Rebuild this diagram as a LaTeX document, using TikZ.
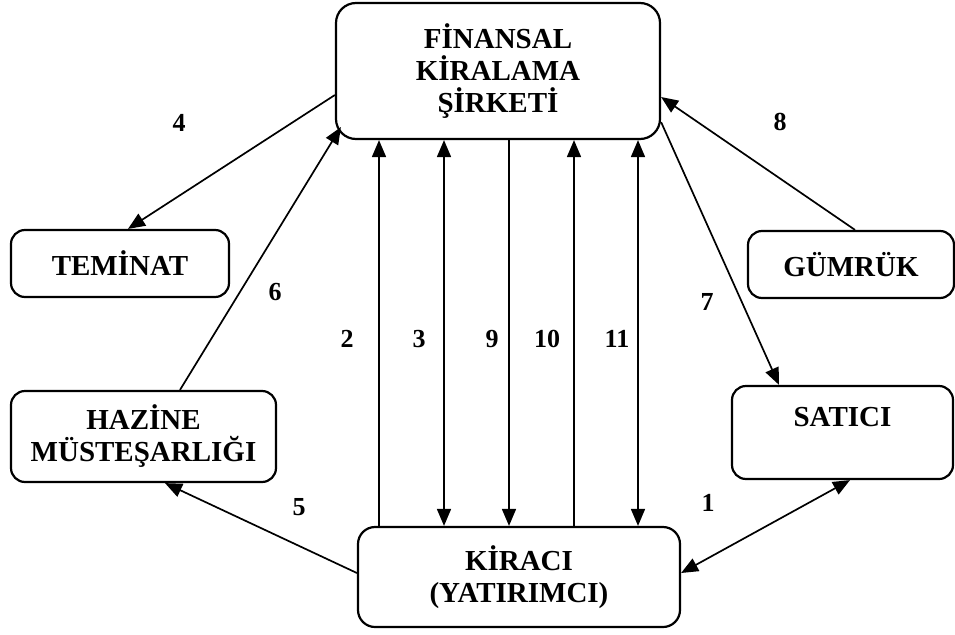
\documentclass[tikz,border=0pt]{standalone}
\usepackage{fontspec}
\setmainfont{Liberation Serif}
\usetikzlibrary{arrows.meta}
\begin{document}
\begin{tikzpicture}[x=1pt,y=-1pt,
  box/.style={draw, line width=2.2pt, rounded corners=14pt, inner sep=0pt,
    align=center, font=\fontsize{29}{32}\selectfont\bfseries},
  link/.style={line width=1.7pt, -{Triangle[length=17pt,width=14pt]}},
  both/.style={line width=1.7pt, {Triangle[length=17pt,width=14pt]}-{Triangle[length=17pt,width=14pt]}},
  num/.style={font=\fontsize{26}{28}\selectfont\bfseries, inner sep=0pt}]
\useasboundingbox (0,0) rectangle (955,634);

% parties
\node[box, minimum width=324pt, minimum height=136pt, rounded corners=20pt] (fk) at (498,71) {FİNANSAL\\KİRALAMA\\ŞİRKETİ};
\node[box, minimum width=218pt, minimum height=67pt] (tem) at (120,263.5) {TEMİNAT};
\node[box, minimum width=206pt, minimum height=67pt] (gum) at (851,264.5) {GÜMRÜK};
\node[box, minimum width=265pt, minimum height=91pt] (haz) at (143.5,436.5) {HAZİNE\\MÜSTEŞARLIĞI};
\node[box, minimum width=221pt, minimum height=93pt] (sat) at (842.5,432.5) {SATICI\\\mbox{}};
\node[box, minimum width=322pt, minimum height=100pt, rounded corners=17pt] (kir) at (519,577) {KİRACI\\(YATIRIMCI)};

% vertical links between the lessee and the leasing company
\foreach \n/\dx in {2/-140,3/-75,9/-10,10/55,11/119}{
  \coordinate (b\n) at ([xshift=\dx pt]kir.north);
  \coordinate (t\n) at (b\n |- fk.south);
}
\draw[link] (b2) -- (t2);
\draw[both] (b3) -- (t3);
\draw[link] (t9) -- (b9);
\draw[link] (b10) -- (t10);
\draw[both] (b11) -- (t11);

% slanted links
\draw[link] ([yshift=-24pt]fk.west) -- ([xshift=8pt]tem.north);
\draw[link] ([xshift=36.5pt]haz.north) -- ([xshift=6pt,yshift=13pt]fk.south west);
\draw[link] ([yshift=18pt]fk.south east) -- ([xshift=-63.5pt]sat.north);
\draw[link] ([xshift=4pt]gum.north) -- ([yshift=-26pt]fk.east);
\draw[link] ([yshift=4pt]kir.west) -- ([xshift=21.5pt]haz.south);
\draw[both] ([yshift=4pt]kir.east) -- ([xshift=7.5pt]sat.south);

% step numbers
\node[num] (n4) at (179,123) {4};
\node[num] (n6) at (275,292) {6};
\node[num] (n2) at (347,339) {2};
\node[num] (n3) at (419,339) {3};
\node[num] (n9) at (492,339) {9};
\node[num] (n10) at (547,339) {10};
\node[num] (n11) at (617,339) {11};
\node[num] (n7) at (707,302) {7};
\node[num] (n8) at (780,122) {8};
\node[num] (n5) at (299,507) {5};
\node[num] (n1) at (708,503) {1};
\end{tikzpicture}
\end{document}
